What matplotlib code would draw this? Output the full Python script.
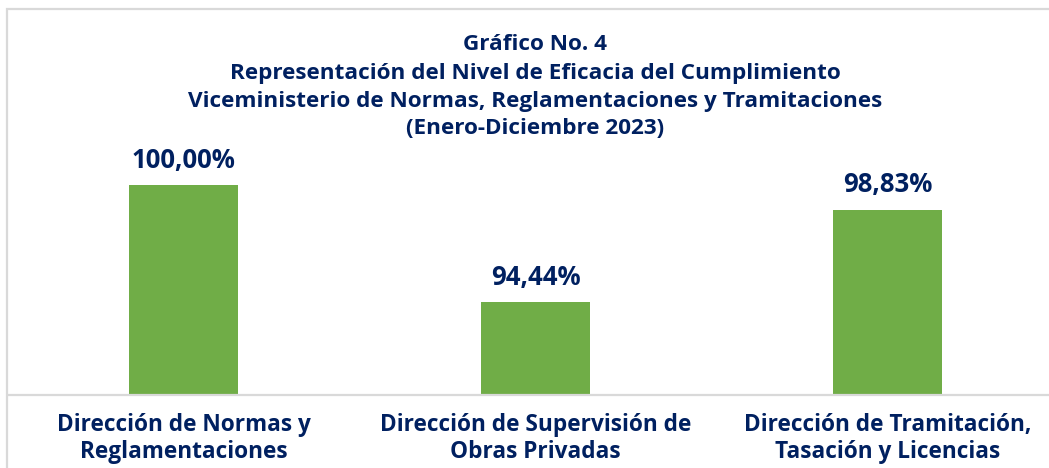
import matplotlib
matplotlib.use("Agg")
import matplotlib.pyplot as plt
import matplotlib.patches as patches

# data
categories = ["Dirección de Normas y\nReglamentaciones",
              "Dirección de Supervisión de\nObras Privadas",
              "Dirección de Tramitación,\nTasación y Licencias"]
values = [100.00, 94.44, 98.83]
value_labels = ["100,00%", "94,44%", "98,83%"]
title_lines = ["Gráfico No. 4",
               "Representación del Nivel de Eficacia del Cumplimiento",
               "Viceministerio de Normas, Reglamentaciones y Tramitaciones",
               "(Enero-Diciembre 2023)"]

navy = "#002060"
green = "#70AD47"
plt.rcParams["font.family"] = ["Open Sans", "DejaVu Sans"]

W, H = 1049, 468
fig = plt.figure(figsize=(W / 100, H / 100), dpi=100)

# light grey frame (cut off at right and bottom like the reference)
fig.patches.append(patches.Rectangle((7 / W, -0.1), 1.2, (H - 9) / H + 0.1,
                                     transform=fig.transFigure, fill=False,
                                     edgecolor="#D9D9D9", linewidth=1.6))

# axes: baseline at y=395px, x centres 352px apart
ax = fig.add_axes([7.5 / W, (H - 395) / H, 1056 / W, 252 / H])
x = range(len(values))
ax.bar(x, values, width=0.31, color=green, zorder=2)
ax.set_xlim(-0.5, 2.5)
ax.set_ylim(90, 102)
ax.axhline(90, color="#D9D9D9", linewidth=1.6, zorder=3, clip_on=False)
for s in ax.spines.values():
    s.set_visible(False)
ax.set_yticks([])
ax.set_xticks([])

for xi, v, lab in zip(x, values, value_labels):
    ax.annotate(lab, (xi, v), xytext=(0, 8), textcoords="offset points",
                ha="center", va="bottom", fontsize=18.5, fontweight="bold", color=navy)

for xi, cat in zip(x, categories):
    ax.annotate(cat, (xi, 90), xytext=(0, -13), textcoords="offset points",
                ha="center", va="top", fontsize=16.3, fontweight="bold", color=navy,
                linespacing=1.15)

for i, line in enumerate(title_lines):
    fig.text(535 / W, 1 - (45 + 28 * i) / H, line, ha="center", va="center",
             fontsize=16.2, fontweight="bold", color=navy)

fig.savefig("out.png", dpi=100)
